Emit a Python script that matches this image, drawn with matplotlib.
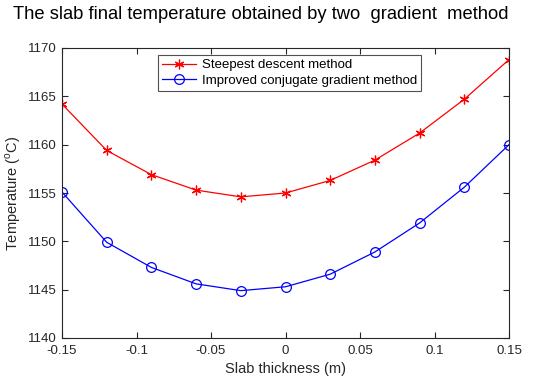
import matplotlib
matplotlib.use("Agg")
import matplotlib.pyplot as plt

plt.rcParams['font.family'] = ['Liberation Sans', 'DejaVu Sans']
plt.rcParams['mathtext.fontset'] = 'custom'
plt.rcParams['mathtext.rm'] = 'Liberation Sans'

x = [-0.15, -0.12, -0.09, -0.06, -0.03, 0.0, 0.03, 0.06, 0.09, 0.12, 0.15]
steepest = [1164.2, 1159.4, 1156.9, 1155.3, 1154.6, 1155.0, 1156.3, 1158.4, 1161.2, 1164.7, 1168.8]
conjugate = [1155.1, 1149.9, 1147.3, 1145.6, 1144.9, 1145.3, 1146.6, 1148.9, 1151.9, 1155.6, 1160.0]
xticks = [-0.15, -0.1, -0.05, 0, 0.05, 0.1, 0.15]
xticklabels = ['-0.15', '-0.1', '-0.05', '0', '0.05', '0.1', '0.15']
yticks = [1140, 1145, 1150, 1155, 1160, 1165, 1170]

fig = plt.figure(figsize=(5.45, 3.8), dpi=100)
ax = fig.add_axes([62/545, 42/380, 447/545, 290/380])

asterisk = (6, 2, 0)
ax.plot(x, steepest, color='red', lw=0.9, marker=asterisk, ms=7, mew=0.9,
        label='Steepest descent method')
ax.plot(x, conjugate, color='blue', lw=0.9, marker='o', ms=7, mfc='none', mew=0.9,
        label='Improved conjugate gradient method')

ax.set_xlim(-0.15, 0.15)
ax.set_ylim(1140, 1170)
ax.set_xticks(xticks)
ax.set_xticklabels(xticklabels)
ax.set_yticks(yticks)
ax.tick_params(direction='in', top=True, right=True, labelsize=9.5, colors='#262626', length=4)
ax.tick_params(axis='x', pad=5)
for s in ax.spines.values():
    s.set_color('#262626')
    s.set_linewidth(0.8)

ax.set_xlabel('Slab thickness (m)', fontsize=10.5, color='#262626', labelpad=4)
ax.set_ylabel('Temperature ($^{\\rm o}$C)', fontsize=10.5, color='#262626', labelpad=4)
fig.text(0.478, 0.985, 'The slab final temperature obtained by two  gradient  method',
         ha='center', va='top', fontsize=13.2, color='black')

leg = ax.legend(loc='upper left', bbox_to_anchor=(0.215, 0.975), fontsize=9.5,
                frameon=True, fancybox=False, edgecolor='#262626', borderpad=0.3,
                labelspacing=0.25, handlelength=2.6, handletextpad=0.4, borderaxespad=0)
leg.get_frame().set_linewidth(0.8)

fig.savefig('out.png', dpi=100)
